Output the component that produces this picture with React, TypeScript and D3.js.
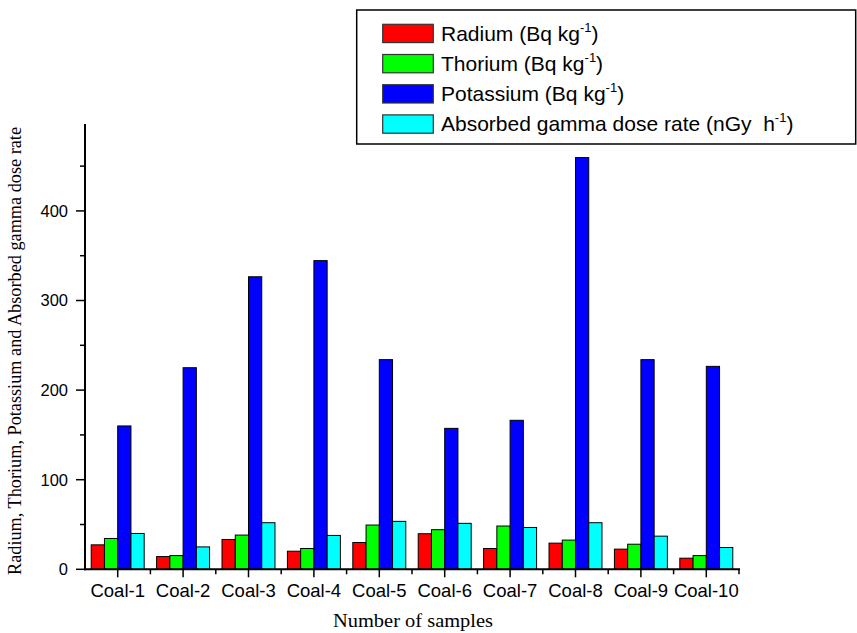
import React from "react";
import * as d3 from "d3";

const categories = ["Coal-1", "Coal-2", "Coal-3", "Coal-4", "Coal-5", "Coal-6", "Coal-7", "Coal-8", "Coal-9", "Coal-10"];
const radium = [27.3, 14.2, 33.3, 20.2, 29.9, 39.7, 23.2, 29.2, 22.5, 12.4];
const thorium = [34.4, 15.3, 38.2, 23.2, 49.4, 44.2, 48.3, 32.6, 28.0, 15.3];
const potassium = [160, 225, 326.5, 344.5, 234, 157.3, 166.3, 459.5, 234, 226.5];
const doseRate = [40, 25, 52, 37.8, 53.5, 51.3, 46.7, 52, 37, 24.3];
const seriesNames = ["Radium", "Thorium", "Potassium", "Absorbed"];
const seriesColors = ["#ff0000", "#00ff00", "#0000ff", "#00ffff"];
const legendLabels = [
  { main: "Radium (Bq kg", sup: "-1", tail: ")" },
  { main: "Thorium (Bq kg", sup: "-1", tail: ")" },
  { main: "Potassium (Bq kg", sup: "-1", tail: ")" },
  { main: "Absorbed gamma dose rate (nGy\u00a0 h", sup: "-1", tail: ")" },
];
const yMajorTicks = [0, 100, 200, 300, 400];
const yMinorTicks = [50, 150, 250, 350, 450];
const yTitle = "Radium, Thorium, Potassium and Absorbed gamma dose rate";
const xTitle = "Number of samples";

const W = 857;
const H = 633;
const left = 85;
const right = 739;
const bottom = 569.3;
const top = 124;
const yMax = 497;

export default function App() {
  const seriesValues = [radium, thorium, potassium, doseRate];
  const x = d3.scaleBand<string>().domain(categories).range([left, right]).paddingInner(0).paddingOuter(0);
  const bw = x.bandwidth();
  const groupW = bw * 0.81;
  const inner = d3.scaleBand<string>().domain(seriesNames).range([(bw - groupW) / 2, (bw + groupW) / 2]).padding(0);
  const y = d3.scaleLinear().domain([0, yMax]).range([bottom, top]);
  const sans = "'Liberation Sans', Arial, sans-serif";
  const serif = "'Liberation Serif', 'Times New Roman', serif";
  const boundaries = categories.map((c) => x(c) as number).concat([right]);

  return (
    <div style={{ position: "absolute", left: 0, top: 0 }}>
      <svg width={W} height={H} style={{ display: "block", background: "#fff" }}>
        <rect x={0} y={0} width={W} height={H} fill="#fff" />
        {/* bars */}
        {categories.map((c, i) => (
          <g key={c} transform={`translate(${x(c)},0)`}>
            {seriesNames.map((s, j) => {
              const v = seriesValues[j][i];
              return (
                <rect
                  key={s}
                  x={inner(s) as number}
                  y={y(v)}
                  width={inner.bandwidth()}
                  height={bottom - y(v)}
                  fill={seriesColors[j]}
                  stroke="#000"
                  strokeWidth={1}
                />
              );
            })}
          </g>
        ))}
        {/* y axis */}
        <line x1={left} x2={left} y1={top} y2={bottom + 1} stroke="#000" strokeWidth={2} />
        {yMajorTicks.map((t) => (
          <g key={t}>
            <line x1={left - 9} x2={left} y1={y(t)} y2={y(t)} stroke="#000" strokeWidth={1.5} />
            <text x={68} y={y(t)} dy="0.36em" textAnchor="end" fontFamily={sans} fontSize={16.5} fill="#000">
              {t}
            </text>
          </g>
        ))}
        {yMinorTicks.map((t) => (
          <line key={t} x1={left - 5} x2={left} y1={y(t)} y2={y(t)} stroke="#000" strokeWidth={1.5} />
        ))}
        {/* x axis */}
        <line x1={left - 1} x2={right + 1} y1={bottom} y2={bottom} stroke="#000" strokeWidth={2} />
        {categories.map((c) => {
          const cx = (x(c) as number) + bw / 2;
          return (
            <g key={c}>
              <line x1={cx} x2={cx} y1={bottom} y2={bottom + 8} stroke="#000" strokeWidth={1.5} />
              <text x={cx} y={597} textAnchor="middle" fontFamily={sans} fontSize={18.5} fill="#000">
                {c}
              </text>
            </g>
          );
        })}
        {boundaries.slice(1).map((b, k) => (
          <line key={k} x1={b} x2={b} y1={bottom} y2={bottom + 5} stroke="#000" strokeWidth={1.5} />
        ))}
        {/* axis titles */}
        <text
          transform={`translate(21,351) rotate(-90)`}
          textAnchor="middle"
          fontFamily={serif}
          fontSize={18}
          textLength={448}
          lengthAdjust="spacingAndGlyphs"
          fill="#000"
        >
          {yTitle}
        </text>
        <text x={413} y={627} textAnchor="middle" fontFamily={serif} fontSize={18} textLength={160} lengthAdjust="spacingAndGlyphs" fill="#000">
          {xTitle}
        </text>
        {/* legend */}
        <rect x={356.7} y={10} width={499} height={134} fill="#fff" stroke="#000" strokeWidth={1.5} />
        {legendLabels.map((l, k) => {
          const ry = 24.3 + k * 30.2;
          return (
            <g key={k}>
              <rect x={382.7} y={ry} width={50.6} height={18.3} fill={seriesColors[k]} stroke="#333" strokeWidth={1.2} />
              <text x={441} y={ry + 16.5} fontFamily={sans} fontSize={21} fill="#000">
                {l.main}
                <tspan fontSize={13} dy={-9}>{l.sup}</tspan>
                <tspan dy={9}>{l.tail}</tspan>
              </text>
            </g>
          );
        })}
      </svg>
    </div>
  );
}
